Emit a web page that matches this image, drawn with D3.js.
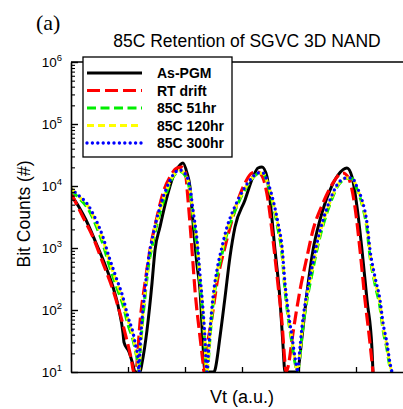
<!DOCTYPE html>
<html><head><meta charset="utf-8">
<script src="https://cdn.jsdelivr.net/npm/d3@7"></script>
<style>body{margin:0;background:#fff}svg{display:block}</style>
</head><body>
<svg id="chart" width="403" height="409"></svg>
<script>
// ---- data (x in a.u., y = bit counts) ----
const seriesNames = ["As-PGM", "RT drift", "85C 51hr", "85C 120hr", "85C 300hr"];
const yTickValues = [10, 100, 1000, 10000, 100000, 1000000];
const yTickExponents = ["1", "2", "3", "4", "5", "6"];
const xTickValues = [1, 2, 3, 4, 5];

const asPgmX = [0,0.14,0.263,0.439,0.614,0.737,0.842,0.912,0.93,1.018,1.088,1.123,1.21,1.246,1.333,1.421,1.474,1.561,1.684,1.789,1.912,1.965,2.035,2.088,2.14,2.211,2.263,2.316,2.351,2.509,2.526,2.614,2.702,2.789,2.877,3.053,3.193,3.281,3.351,3.439,3.491,3.579,3.667,3.719,3.754,3.965,3.982,4.053,4.14,4.246,4.368,4.544,4.684,4.842,4.93,5.018,5.105,5.193,5.281,5.298];
const asPgmY = [7200,4600,2830,1200,490,235,100,43,30,21,13,10,10,14,47,270,930,2180,6650,14000,21800,23500,16200,9600,2620,530,210,27,10,10,10.8,37,160,720,2180,5950,14000,19500,20200,14000,5950,930,145,27,10,10,10.8,37,190,930,2830,8600,15000,19500,14000,4600,930,145,23,10];

const rtDriftX = [0,0.21,0.386,0.561,0.737,0.877,0.965,1.053,1.105,1.14,1.175,1.21,1.298,1.386,1.509,1.614,1.737,1.86,1.947,2.0,2.053,2.123,2.175,2.263,2.316,2.333,2.368,2.474,2.579,2.702,2.825,2.93,3.053,3.175,3.281,3.368,3.456,3.544,3.632,3.702,3.754,3.772,3.807,3.895,4.018,4.14,4.246,4.421,4.596,4.667,4.772,4.86,4.982,5.07,5.158,5.246,5.298];
const rtDriftY = [7700,3160,1500,570,210,77,37,17,10,10,23,62,270,930,3160,7700,14000,19500,20200,18100,5950,930,210,37,14,10,19,77,340,1040,2830,5950,11200,16200,16800,13500,5950,1350,253,62,14,10,12,43,210,720,1950,5300,11200,14000,16200,14000,4600,930,145,29,10];

const hotX = [0,0.123,0.298,0.439,0.561,0.667,0.789,0.912,1.0,1.088,1.14,1.175,1.193,1.21,1.246,1.298,1.351,1.439,1.561,1.684,1.789,1.912,2.035,2.088,2.14,2.211,2.263,2.316,2.351,2.368,2.386,2.404,2.439,2.491,2.561,2.649,2.737,2.825,2.93,3.053,3.175,3.281,3.368,3.456,3.544,3.632,3.702,3.754,3.807,3.877,3.93,3.982,4.0,4.053,4.14,4.228,4.316,4.421,4.544,4.667,4.772,4.842,4.93,5.018,5.105,5.193,5.246,5.333,5.421,5.474,5.544,5.596,5.632];
const hot51Y = [8600,6600,4300,2300,1150,540,250,120,58,33,20,14,10,18,52,160,450,1250,3700,8200,14000,17200,13000,8000,3300,1000,280,75,26,13,10,13,36,120,340,800,1700,3000,5200,8800,13000,15800,15800,10300,5000,2000,800,210,78,29,14,10,13,40,145,380,950,2300,5100,9500,12500,13200,13200,8800,5100,2000,720,260,110,48,23,12,10];
const hot120Y = [9300,7000,4700,2600,1350,640,300,142,68,38,22,15,10,20,60,185,520,1450,4200,9000,14600,17800,13600,8800,3800,1200,330,88,30,14,10,14,42,140,390,930,1950,3300,5600,9200,13300,16000,16000,10800,5500,2300,930,240,90,33,15,10,14,47,168,435,1080,2580,5550,10000,12800,13400,13400,9200,5500,2300,830,300,128,55,26,13,10];
const hot300Y = [8950,7200,4950,2830,1500,720,340,160,77,43,25,17,10,23,69,210,590,1620,4600,9600,15000,18100,14000,9300,4100,1350,367,100,33,16,10,16,47,160,440,1040,2180,3650,5950,9600,13500,16200,16200,11200,5950,2530,1040,270,100,37,17,10,16,53,190,490,1200,2830,5950,10400,13000,13500,13500,9600,5950,2530,930,340,145,62,29,14,10];

// ---- layout ----
const L = 71, R = 413, T = 62, B = 372;
const svg = d3.select("#chart");
const x = d3.scaleLinear().domain([0, 6]).range([L, R]);
const y = d3.scaleLog().domain([10, 1e6]).range([B, T]);

const styles = [
  {color:"#000000", width:3, dash:null, cap:"butt"},
  {color:"#ff0000", width:3.2, dash:"13,5", cap:"butt"},
  {color:"#00ee00", width:3, dash:"9,4.5", cap:"butt"},
  {color:"#ffff00", width:3, dash:"7,4", cap:"butt"},
  {color:"#0000ff", width:3.4, dash:"0,5.4", cap:"round"}
];
const series = [
  asPgmX.map((v,i)=>[v, asPgmY[i]]),
  rtDriftX.map((v,i)=>[v, rtDriftY[i]]),
  hotX.map((v,i)=>[v, hot51Y[i]]),
  hotX.map((v,i)=>[v, hot120Y[i]]),
  hotX.map((v,i)=>[v, hot300Y[i]])
];

svg.append("defs").append("clipPath").attr("id","clip")
  .append("rect").attr("x", L).attr("y", T).attr("width", R - L).attr("height", B - T);

const line = d3.line().x(d => x(d[0])).y(d => y(d[1])).curve(d3.curveMonotoneX);
const g = svg.append("g").attr("clip-path","url(#clip)");
series.forEach((s, i) => {
  const st = styles[i];
  g.append("path").datum(s).attr("d", line)
    .attr("fill","none").attr("stroke", st.color).attr("stroke-width", st.width)
    .attr("stroke-dasharray", st.dash).attr("stroke-linecap", st.cap)
    .attr("stroke-linejoin","round");
});

// ---- axes ----
const yAxis = svg.append("g").attr("transform", `translate(${L},0)`)
  .call(d3.axisLeft(y).tickValues(yTickValues).tickSize(-7).tickSizeOuter(0).tickPadding(9).tickFormat(""));
yAxis.select(".domain").attr("stroke-width", 1.6);
yAxis.selectAll(".tick line").attr("stroke-width", 1.4);
yAxis.selectAll(".tick").append("text")
  .attr("x", -9).attr("dy", "0.32em").attr("text-anchor","end")
  .attr("fill","#000").attr("font-family","'Liberation Sans', Arial, sans-serif").attr("font-size", 13.5)
  .each(function(d, i) {
    const t = d3.select(this);
    t.append("tspan").text("10");
    t.append("tspan").attr("dy", -6).attr("font-size", 9.5).text(yTickExponents[i]);
  });

const minorVals = [];
for (let e = 1; e < 6; e++) for (let m = 2; m <= 9; m++) minorVals.push(m * Math.pow(10, e));
svg.append("g").attr("transform", `translate(${L},0)`)
  .call(d3.axisLeft(y).tickValues(minorVals).tickSize(-4).tickSizeOuter(0).tickFormat(""))
  .call(s => s.select(".domain").remove())
  .selectAll(".tick line").attr("stroke-width", 1.1);

const xAxis = svg.append("g").attr("transform", `translate(0,${B})`)
  .call(d3.axisBottom(x).tickValues(xTickValues).tickSize(-5).tickSizeOuter(0).tickFormat(""));
xAxis.select(".domain").attr("stroke-width", 1.6);
xAxis.selectAll(".tick line").attr("stroke-width", 1.3);

svg.append("line").attr("x1", L).attr("x2", R).attr("y1", T).attr("y2", T)
  .attr("stroke","#000").attr("stroke-width", 1.4);

// ---- texts ----
svg.append("text").attr("x", 36).attr("y", 30)
  .attr("font-family","'Liberation Serif', 'Times New Roman', serif").attr("font-size", 22)
  .text("(a)");
svg.append("text").attr("x", 247).attr("y", 47).attr("text-anchor","middle")
  .attr("font-family","'Liberation Sans', Arial, sans-serif").attr("font-size", 17.5)
  .text("85C Retention of SGVC 3D NAND");
svg.append("text").attr("transform", "translate(30,214) rotate(-90)").attr("text-anchor","middle")
  .attr("font-family","'Liberation Sans', Arial, sans-serif").attr("font-size", 17.5)
  .text("Bit Counts (#)");
svg.append("text").attr("x", 242).attr("y", 403).attr("text-anchor","middle")
  .attr("font-family","'Liberation Sans', Arial, sans-serif").attr("font-size", 18)
  .text("Vt (a.u.)");

// ---- legend ----
const lg = svg.append("g");
lg.append("rect").attr("x", 83).attr("y", 57).attr("width", 149).attr("height", 100)
  .attr("fill","#fff").attr("stroke","#000").attr("stroke-width", 1.3);
const rowY = [73, 90.5, 108, 125.5, 143];
seriesNames.forEach((name, i) => {
  const st = styles[i];
  lg.append("line").attr("x1", 87).attr("x2", 142).attr("y1", rowY[i]).attr("y2", rowY[i])
    .attr("stroke", st.color).attr("stroke-width", st.width)
    .attr("stroke-dasharray", st.dash).attr("stroke-linecap", st.cap);
  lg.append("text").attr("x", 157).attr("y", rowY[i] + 5)
    .attr("font-family","'Liberation Sans', Arial, sans-serif").attr("font-size", 14).attr("font-weight","bold")
    .text(name);
});
</script>
</body></html>
